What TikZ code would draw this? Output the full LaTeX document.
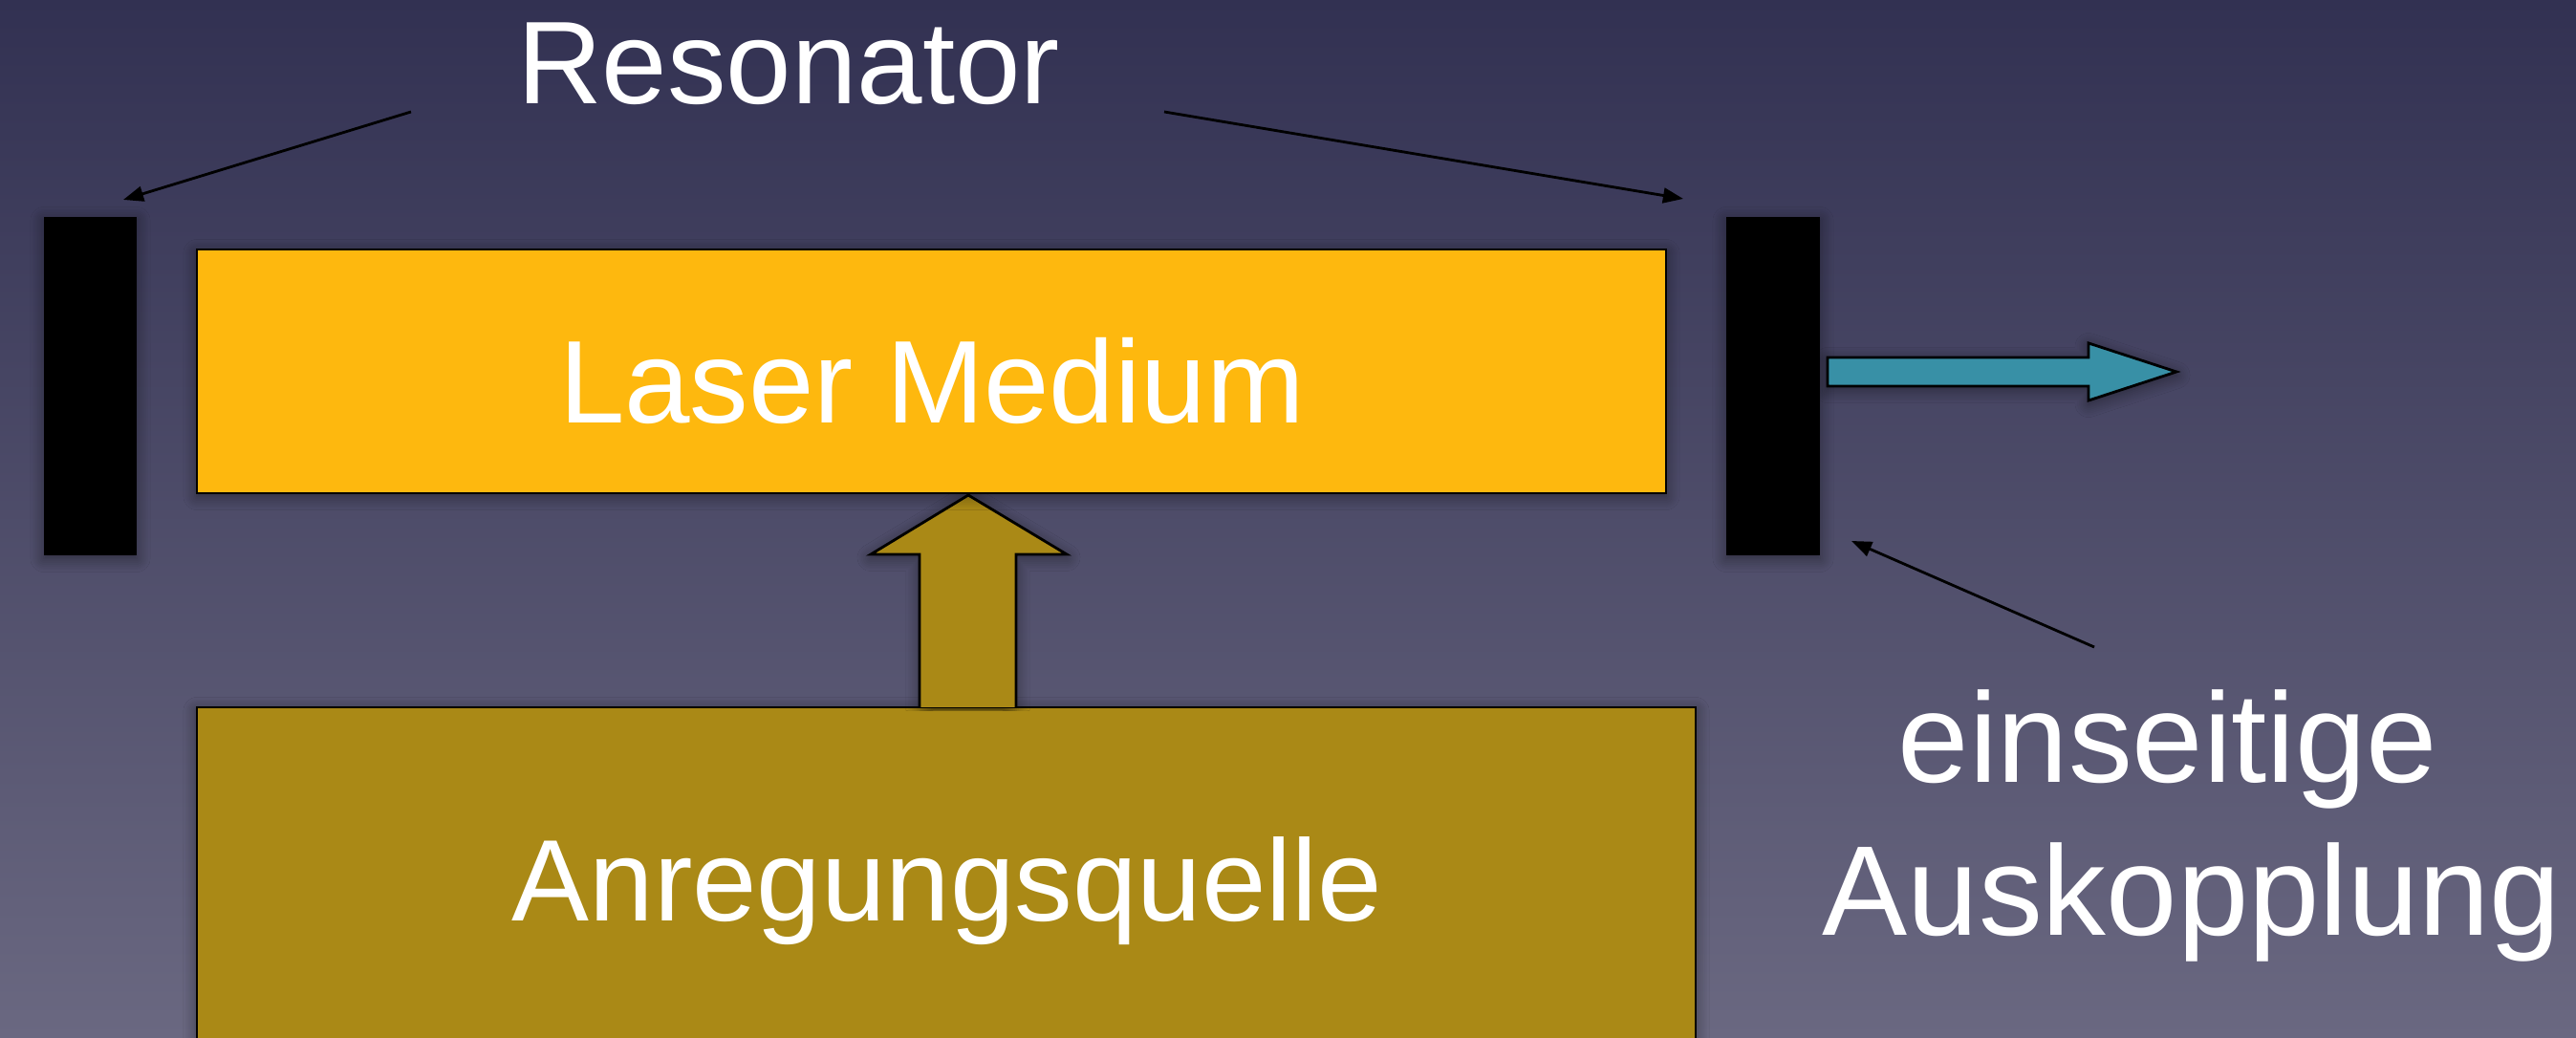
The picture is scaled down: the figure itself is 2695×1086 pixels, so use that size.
\documentclass[tikz,border=0pt]{standalone}
\usepackage{fontspec}
\setmainfont{Liberation Sans}
\usetikzlibrary{arrows.meta,shadows.blur}
\definecolor{bgtop}{RGB}{50,49,82}
\definecolor{bgbot}{RGB}{106,104,129}
\definecolor{laseryellow}{RGB}{254,184,14}
\definecolor{pumpgold}{RGB}{170,137,22}
\definecolor{outteal}{RGB}{56,144,166}
\tikzset{
  lbl/.style={text=white,inner sep=0pt,anchor=base},
  softshadow/.style={blur shadow={shadow xshift=0pt,shadow yshift=-1pt,shadow blur radius=4pt,shadow opacity=45,shadow blur steps=8}},
  mirror/.style={fill=black,draw=none,softshadow},
  boxshape/.style={draw=black,line width=0.6pt,softshadow},
  annot/.style={draw=black,line width=0.8pt,-{Triangle[length=6pt,width=4.5pt]}},
  bigarrow/.style={draw=black,line width=0.8pt,line join=miter,softshadow}
}
\begin{document}
\begin{tikzpicture}[x=0.01cm,y=-0.01cm]
\useasboundingbox (0,0) rectangle (2695,1086);
\shade[top color=bgtop,bottom color=bgbot] (0,0) rectangle (2695,1086);
\begin{scope}
\clip (0,0) rectangle (2695,1086);
% mirrors
\path[mirror] (46,227) rectangle (143,581);
\coordinate (lmtip) at (129,209);
\path[mirror] (1806,227) rectangle (1904,581);
\coordinate (rmtip) at (1761,208);
\coordinate (rmbot) at (1937,566);
% pump source
\path[boxshape,fill=pumpgold] (206,740) rectangle (1774,1100);
\node[lbl,font=\fontsize{34.5}{41}\selectfont] (aq) at (991,963) {Anregungsquelle};
% pump arrow
\path[bigarrow,fill=pumpgold] (962,740) -- (962,580) -- (911,580) -- (1013,518) -- (1116,580) -- (1063,580) -- (1063,740);
% laser medium
\path[boxshape,fill=laseryellow] (206,261) rectangle (1743,516);
\node[lbl,font=\fontsize{35}{42}\selectfont] (lm) at (975,443) {Laser Medium};
% output arrow
\path[bigarrow,fill=outteal] (1912,374) -- (2185,374) -- (2185,359) -- (2277,389) -- (2185,419) -- (2185,404) -- (1912,404) -- cycle;
% labels
\node[lbl,font=\fontsize{35}{42}\selectfont] (res) at (825,109) {Resonator};
\node[lbl,font=\fontsize{38}{46}\selectfont] (ein) at (2268,818) {einseitige};
\node[lbl,font=\fontsize{38}{46}\selectfont] (aus) at (2293,978) {Auskopplung};
% annotation arrows
\coordinate (resl) at (430,117);
\coordinate (resr) at (1218,117);
\coordinate (einl) at (2191,677);
\draw[annot] (resl) -- (lmtip);
\draw[annot] (resr) -- (rmtip);
\draw[annot] (einl) -- (rmbot);
\end{scope}
\end{tikzpicture}
\end{document}
